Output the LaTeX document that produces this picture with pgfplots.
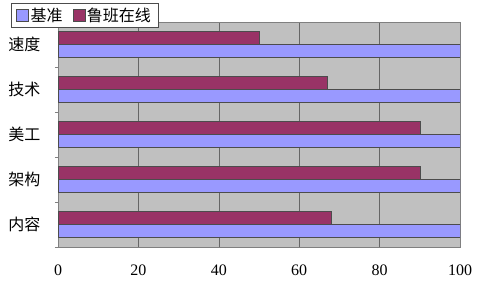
\documentclass[border=0pt]{standalone}
\usepackage{pgfplots}
\pgfplotsset{compat=1.18}
\usepackage{fontspec}
\setmainfont{Liberation Serif}
\newfontfamily\cjk{Noto Sans CJK SC}
\definecolor{bgray}{HTML}{C0C0C0}
\definecolor{cblue}{HTML}{9999FF}
\definecolor{cmaroon}{HTML}{993366}
\begin{document}
\begin{tikzpicture}
\useasboundingbox[fill=white] (0,0) rectangle (482bp,289bp);
\begin{axis}[
  at={(58bp,42bp)}, anchor=south west,
  scale only axis, width=402bp, height=225bp,
  xmin=0, xmax=100, ymin=-0.5, ymax=4.5,
  xtick={0,20,40,60,80,100},
  ytick={0,1,2,3,4},
  yticklabels={内容,架构,美工,技术,速度},
  yticklabel style={font=\cjk\fontsize{16bp}{18bp}\selectfont, xshift=-14bp},
  xticklabel style={font=\fontsize{16bp}{18bp}\selectfont, yshift=-14bp},
  /pgf/number format/assume math mode=true,
  major tick length=0pt,
  extra y ticks={-0.5,0.5,1.5,2.5,3.5,4.5},
  extra y tick labels={},
  extra y tick style={major tick length=3bp, tick style={draw=gray}, tick pos=left},
  xmajorgrids, grid style={draw=black!60, line width=0.6pt},
  axis background/.style={fill=bgray},
  axis line style={draw=gray},
  xbar, bar width=13bp,
  legend style={at={(-0.1169,1.0844)}, anchor=north west, legend columns=2,
    font=\cjk\fontsize{16bp}{18bp}\selectfont, draw=black!70, fill=white,
    inner xsep=5bp, inner ysep=2.5bp,
    /tikz/every even column/.append style={column sep=8bp}},
  legend image code/.code={\draw[#1, draw=black!70] (0bp,-6bp) rectangle (12bp,6bp);},
]
\addplot[fill=cblue, draw=black!70, bar shift=-6.5bp] coordinates {(100,0) (100,1) (100,2) (100,3) (100,4)};
\addplot[fill=cmaroon, draw=black!70, bar shift=6.5bp] coordinates {(68,0) (90,1) (90,2) (67,3) (50,4)};
\legend{基准,鲁班在线}
\end{axis}
\end{tikzpicture}
\end{document}
